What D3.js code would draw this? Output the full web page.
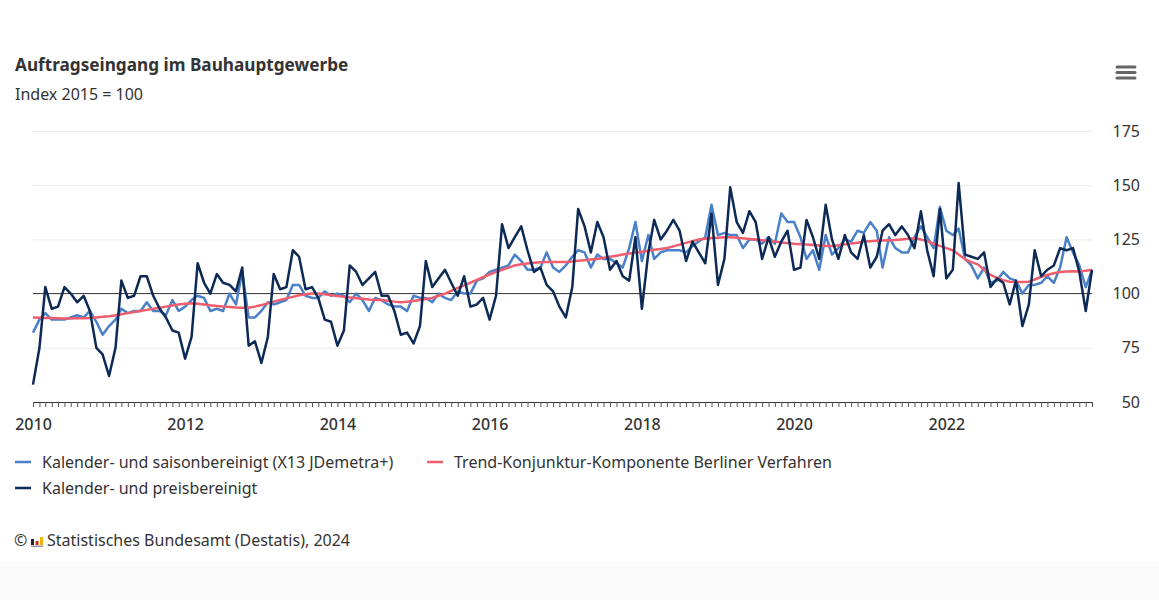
<!DOCTYPE html>
<html>
<head>
<meta charset="utf-8">
<script src="https://cdn.jsdelivr.net/npm/d3@7"></script>
<style>
  body { margin: 0; background: #fff; }
  svg { display: block; font-family: "Noto Sans", "Open Sans", sans-serif; }
  .tick text { fill: #333; }
</style>
</head>
<body>
<svg width="1159" height="600"></svg>
<script>
// Monatswerte Jan 2010 - Dez 2023
var startMonth = new Date(2010, 0, 1);
var yTicks = [50, 75, 100, 125, 150, 175];

var saisonbereinigt = [
  82, 88, 91, 88, 88, 88, 89, 90, 89, 92, 87, 81,
  85, 88, 93, 91, 92, 92, 96, 92, 92, 90, 97, 92,
  94, 97, 99, 98, 92, 93, 92, 100, 95, 110, 89, 89,
  92, 96, 95, 96, 97, 104, 104, 99, 98, 98, 101, 99,
  100, 99, 96, 100, 97, 92, 98, 97, 95, 94, 94, 92,
  99, 98, 98, 96, 100, 98, 97, 101, 100, 100, 106, 107,
  110, 111, 112, 113, 118, 115, 111, 111, 112, 119, 112, 110,
  113, 117, 120, 119, 112, 118, 116, 116, 114, 112, 121, 133,
  115, 127, 116, 119, 120, 120, 120, 119, 122, 124, 126, 141,
  127, 128, 127, 127, 121, 125, 125, 123, 126, 123, 137, 133,
  133, 126, 116, 120, 111, 127, 118, 121, 125, 124, 129, 128,
  133, 129, 112, 126, 121, 119, 119, 126, 131, 126, 121, 140,
  129, 127, 130, 116, 113, 107, 112, 105, 106, 110, 107, 106,
  100, 104, 104, 105, 108, 105, 112, 126, 119, 113, 103, 111
];

var trend = [
  89.0, 88.9, 88.8, 88.7, 88.6, 88.5, 88.5, 88.6, 88.6, 88.7, 89.0, 89.3,
  89.6, 90.0, 90.5, 91.0, 91.5, 92.0, 92.5, 93.0, 93.5, 94.0, 94.5, 95.0,
  95.3, 95.5, 95.3, 95.0, 94.6, 94.3, 94.0, 93.8, 93.6, 93.5, 93.5, 94.0,
  94.7, 95.5, 96.3, 97.1, 97.8, 98.5, 99.2, 99.7, 100.0, 100.0, 99.7, 99.3,
  98.9, 98.5, 98.2, 97.9, 97.6, 97.3, 97.1, 97.0, 96.7, 96.3, 96.0, 96.2,
  96.6, 97.0, 97.5, 98.0, 99.0, 100.0, 101.3, 102.6, 103.8, 105.0, 106.3, 107.6,
  108.8, 110.0, 111.0, 112.0, 113.0, 113.5, 113.9, 114.2, 114.5, 114.6, 114.6, 114.6,
  114.6, 114.8, 115.1, 115.4, 115.7, 116.0, 116.5, 117.0, 117.5, 118.0, 118.5, 118.9,
  119.3, 119.8, 120.2, 120.6, 121.0, 121.8, 122.6, 123.4, 124.2, 125.0, 125.3, 125.6,
  125.8, 126.0, 126.0, 125.8, 125.5, 125.2, 124.9, 124.6, 124.3, 124.0, 123.6, 123.3,
  123.0, 122.8, 122.6, 122.4, 122.2, 122.0, 122.0, 122.3, 122.7, 123.1, 123.5, 124.0,
  124.2, 124.4, 124.5, 124.6, 124.7, 125.0, 125.3, 125.5, 125.0, 124.2, 123.0, 122.0,
  121.0, 120.0, 118.0, 115.8, 114.5, 113.5, 111.0, 108.6, 107.3, 106.2, 105.5, 105.3,
  105.3, 105.5, 106.5, 107.7, 108.6, 109.4, 110.0, 110.2, 110.3, 110.2, 110.5, 111.0
];

var preisbereinigt = [
  58, 75, 103, 93, 94, 103, 100, 96, 99, 92, 75, 72,
  62, 75, 106, 98, 99, 108, 108, 99, 93, 89, 83, 82,
  70, 80, 114, 105, 100, 109, 105, 104, 101, 112, 76, 78,
  68, 80, 109, 102, 103, 120, 117, 102, 103, 98, 88, 87,
  76, 83, 113, 110, 104, 107, 110, 99, 99, 92, 81, 82,
  77, 85, 115, 103, 107, 111, 105, 99, 108, 94, 95, 98,
  88, 99, 132, 121, 126, 131, 120, 110, 112, 104, 101, 94,
  89, 103, 139, 131, 119, 133, 126, 111, 115, 108, 106, 126,
  93, 119, 134, 125, 129, 134, 129, 115, 124, 119, 114, 137,
  104, 116, 149, 133, 128, 138, 133, 116, 126, 117, 124, 129,
  111, 112, 134, 126, 116, 141, 125, 116, 127, 119, 116, 127,
  112, 117, 129, 132, 127, 131, 127, 121, 138, 120, 108, 139,
  107, 111, 151, 118, 117, 116, 119, 103, 107, 105, 95, 106,
  85, 95, 120, 108, 111, 113, 121, 120, 121, 110, 92, 111
];

var seriesList = [
  { name: "Kalender- und saisonbereinigt (X13 JDemetra+)", values: saisonbereinigt, color: "#4a80c8" },
  { name: "Trend-Konjunktur-Komponente Berliner Verfahren", values: trend, color: "#f05d6c" },
  { name: "Kalender- und preisbereinigt", values: preisbereinigt, color: "#0c2a55" }
];

function makeChart() {
  var svg = d3.select("svg");
  var pxL = 33, pxR = 1092, pxT = 131, pxB = 402;
  var fs = 16;

  var dates = preisbereinigt.map((d, i) => d3.timeMonth.offset(startMonth, i));

  var scX = d3.scaleTime()
    .domain([dates[0], dates[dates.length - 1]])
    .range([pxL, pxR]);
  var scY = d3.scaleLinear().domain([50, 175]).range([pxB, pxT]);

  // Titel
  svg.append("text").attr("x", 15).attr("y", 71)
    .attr("font-size", 17.2).attr("font-weight", "bold").attr("fill", "#333")
    .text("Auftragseingang im Bauhauptgewerbe");
  svg.append("text").attr("x", 15).attr("y", 100)
    .attr("font-size", fs).attr("fill", "#333")
    .text("Index 2015 = 100");

  // Menü-Symbol
  [67, 72.5, 78].forEach(function (yy) {
    svg.append("line").attr("x1", 1117).attr("x2", 1135)
      .attr("y1", yy).attr("y2", yy)
      .attr("stroke", "#666").attr("stroke-width", 3).attr("stroke-linecap", "round");
  });

  // Gitter
  var grid = svg.append("g").attr("transform", "translate(" + pxR + ",0)")
    .call(d3.axisLeft(scY).tickValues(yTicks.filter(v => v !== 50 && v !== 100))
      .tickSize(pxR - pxL).tickFormat(""));
  grid.select(".domain").remove();
  grid.selectAll("line").attr("stroke", "#ebebeb");

  // y-Beschriftung rechts
  var yAx = svg.append("g").attr("transform", "translate(1140,0)")
    .call(d3.axisRight(scY).tickValues(yTicks).tickSize(0));
  yAx.select(".domain").remove();
  yAx.selectAll("text").attr("x", 0).attr("text-anchor", "end")
    .attr("font-size", fs).attr("font-family", "Noto Sans, sans-serif");

  // Referenzlinie 100
  svg.append("line").attr("x1", pxL).attr("x2", pxR)
    .attr("y1", scY(100)).attr("y2", scY(100))
    .attr("stroke", "#333").attr("stroke-width", 1);

  // x-Achse
  var xAx = svg.append("g").attr("transform", "translate(0," + pxB + ")")
    .call(d3.axisBottom(scX).ticks(d3.timeMonth.every(1)).tickSize(5).tickSizeOuter(0)
      .tickFormat(d => (d.getMonth() === 0 && d.getFullYear() % 2 === 0) ? d.getFullYear() : ""));
  xAx.select(".domain").attr("stroke", "#333");
  xAx.selectAll("line").attr("stroke", "#555");
  xAx.selectAll("text").attr("font-size", fs).attr("dy", "1.25em")
    .attr("font-weight", 500).attr("font-family", "Noto Sans, sans-serif");

  // Linien
  var lnMkr = d3.line().x((d, i) => scX(dates[i])).y(d => scY(d));
  seriesList.forEach(function (s) {
    svg.append("path")
      .attr("fill", "none").attr("stroke", s.color)
      .attr("stroke-width", 2.5).attr("stroke-linejoin", "round")
      .attr("d", lnMkr(s.values));
  });

  // Legende
  var legendPos = [[15, 462], [427, 462], [15, 488]];
  seriesList.forEach(function (s, i) {
    var g = svg.append("g").attr("transform", "translate(" + legendPos[i][0] + "," + legendPos[i][1] + ")");
    g.append("line").attr("x1", 0).attr("x2", 16).attr("y1", 0).attr("y2", 0)
      .attr("stroke", s.color).attr("stroke-width", 2.5);
    g.append("text").attr("x", 27).attr("y", 6)
      .attr("font-size", fs).attr("fill", "#333").text(s.name);
  });

  // Quelle
  svg.append("rect").attr("x", 0).attr("y", 562).attr("width", 1159).attr("height", 38).attr("fill", "#fafafa");
  svg.append("text").attr("x", 14).attr("y", 546).attr("font-size", fs).attr("fill", "#333").text("©");
  var logo = svg.append("g").attr("transform", "translate(31,535)");
  logo.append("rect").attr("x", 0).attr("y", 4).attr("width", 3).attr("height", 6).attr("fill", "#222");
  logo.append("rect").attr("x", 4.5).attr("y", 6).attr("width", 3).attr("height", 4).attr("fill", "#d9261c");
  logo.append("rect").attr("x", 9).attr("y", 2).attr("width", 3).attr("height", 8).attr("fill", "#f0b400");
  logo.append("rect").attr("x", 0).attr("y", 10.5).attr("width", 12).attr("height", 1.5).attr("fill", "#999");
  svg.append("text").attr("x", 47).attr("y", 546).attr("font-size", fs).attr("fill", "#333")
    .text("Statistisches Bundesamt (Destatis), 2024");
}

makeChart();
</script>
</body>
</html>
